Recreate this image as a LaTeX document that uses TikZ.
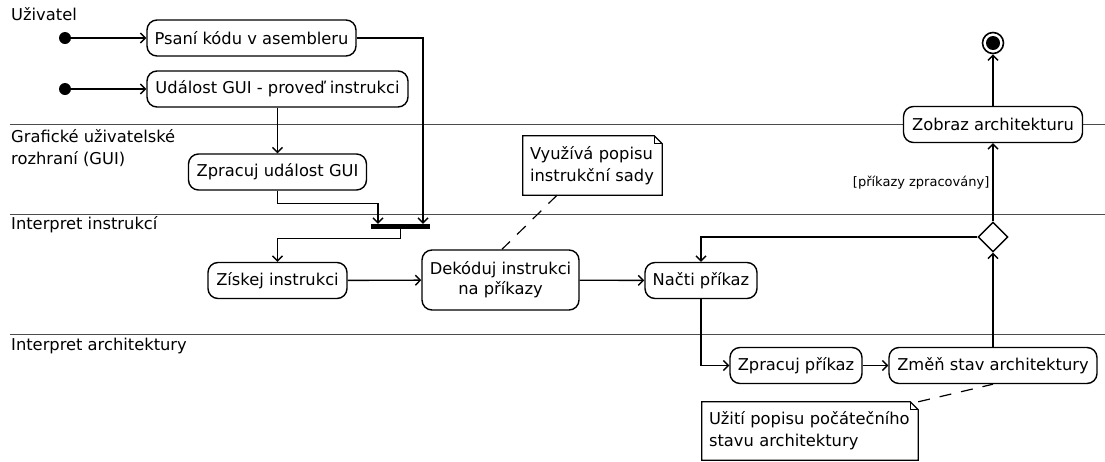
\documentclass[tikz,border=0pt]{standalone}
\usepackage{fontspec}
\setmainfont{DejaVu Sans}
\usetikzlibrary{arrows.meta,calc,shapes.geometric}
\begin{document}
\begin{tikzpicture}[x=1pt,y=-1pt,
 act/.style={draw,fill=white,rounded corners=10pt,line width=1.4pt,minimum height=36pt,inner sep=0pt,font=\fontsize{16.3}{20}\selectfont,align=center},
 flow/.style={line width=1.4pt,-{Straight Barb[length=5pt,width=10pt]}},
 lane/.style={line width=1pt,black!70},
 lanelabel/.style={anchor=north west,inner sep=0pt,font=\fontsize{16.3}{22}\selectfont,align=left},
 notetext/.style={inner sep=0pt,font=\fontsize{16.3}{22}\selectfont,align=left},
 noteline/.style={line width=1.2pt,dash pattern=on 12pt off 10pt},
 startdot/.style={circle,fill=black,minimum size=12pt,inner sep=0pt},
 guard/.style={font=\fontsize{13}{15}\selectfont,anchor=east,inner sep=3pt}
]
\useasboundingbox (0,0) rectangle (1105,461);
% swimlane separators
\draw[lane] (10,124) -- (1105,124);
\draw[lane] (10,214) -- (1105,214);
\draw[lane] (10,334) -- (1105,334);
% lane labels
\node[lanelabel] (l1) at (11,7) {Uživatel};
\node[lanelabel] (l2) at (11,129) {Grafické uživatelské\\rozhraní (GUI)};
\node[lanelabel] (l3) at (11,216.5) {Interpret instrukcí};
\node[lanelabel] (l4) at (11,337.5) {Interpret architektury};
% start nodes
\node[startdot] (s1) at (65,38) {};
\node[startdot] (s2) at (65,89) {};
% actions
\node[act,minimum width=209pt] (psani) at (251.5,38) {Psaní kódu v asembleru};
\node[act,minimum width=261pt] (udalost) at (277.5,89) {Událost GUI - proveď instrukci};
\node[act,minimum width=178pt] (zgui) at (277.5,172) {Zpracuj událost GUI};
\node[fill=black,minimum width=59pt,minimum height=5pt,inner sep=0pt] (bar) at (400.5,226.5) {};
\node[act,minimum width=139pt] (ziskej) at (277.5,280.5) {Získej instrukci};
\node[act,minimum width=157pt,minimum height=60pt] (dekoduj) at (500.5,280) {Dekóduj instrukci\\na příkazy};
\node[act,minimum width=112pt] (nacti) at (701,280.5) {Načti příkaz};
\node[act,minimum width=132pt] (zprac) at (796,365.5) {Zpracuj příkaz};
\node[act,minimum width=208pt] (zmen) at (993,365.5) {Změň stav architektury};
\node[act,minimum width=179pt] (zobraz) at (993,124.5) {Zobraz architekturu};
\node[diamond,draw,fill=white,line width=1.4pt,minimum width=30pt,minimum height=30pt,inner sep=0pt] (dec) at (993,237) {};
\node[circle,draw,line width=1.6pt,minimum size=21pt,inner sep=0pt] (final) at (993,43) {};
\fill (final.center) circle (7pt);
% notes
\node[notetext,minimum width=139pt,minimum height=59pt,text width=125pt] (n1) at (592.5,165.5) {Využívá popisu\\instrukční sady};
\draw[line width=1.2pt] (n1.north west) -- ([xshift=-8pt]n1.north east) -- ([yshift=-8pt]n1.north east) -- (n1.south east) -- (n1.south west) -- cycle;
\draw[line width=0.8pt] ([xshift=-8pt]n1.north east) -- ([xshift=-8pt,yshift=-8pt]n1.north east) -- ([yshift=-8pt]n1.north east);
\node[notetext,minimum width=216pt,minimum height=58pt,text width=202pt] (n2) at (810,431) {Užití popisu počátečního\\stavu architektury};
\draw[line width=1.2pt] (n2.north west) -- ([xshift=-8pt]n2.north east) -- ([yshift=-8pt]n2.north east) -- (n2.south east) -- (n2.south west) -- cycle;
\draw[line width=0.8pt] ([xshift=-8pt]n2.north east) -- ([xshift=-8pt,yshift=-8pt]n2.north east) -- ([yshift=-8pt]n2.north east);
\draw[noteline] ([xshift=-35.5pt]n1.south) -- ([xshift=1.5pt]dekoduj.north);
\draw[noteline] (n2.north east) -- (zmen.south);
% flows
\draw[flow] (s1) -- (psani);
\draw[flow] (s2) -- (udalost);
\draw[flow] (udalost) -- (zgui);
\draw[flow] (psani.east) -| ([xshift=22.5pt]bar.north);
\draw[flow] (zgui.south) -- ++(0,13) -| ([xshift=-22.5pt]bar.north);
\draw[flow] (bar.south) -- ++(0,9) -| (ziskej.north);
\draw[flow] (ziskej) -- (dekoduj);
\draw[flow] (dekoduj) -- (nacti);
\draw[flow] (nacti.south) |- (zprac.west);
\draw[flow] (zprac) -- (zmen);
\draw[flow] (zmen.north) -- (dec.south);
\draw[flow] (dec.west) -| (nacti.north);
\draw[flow] (dec.north) -- node[guard,pos=0.5] {[příkazy zpracovány]} (zobraz.south);
\draw[flow] (zobraz.north) -- (final);
\end{tikzpicture}
\end{document}
